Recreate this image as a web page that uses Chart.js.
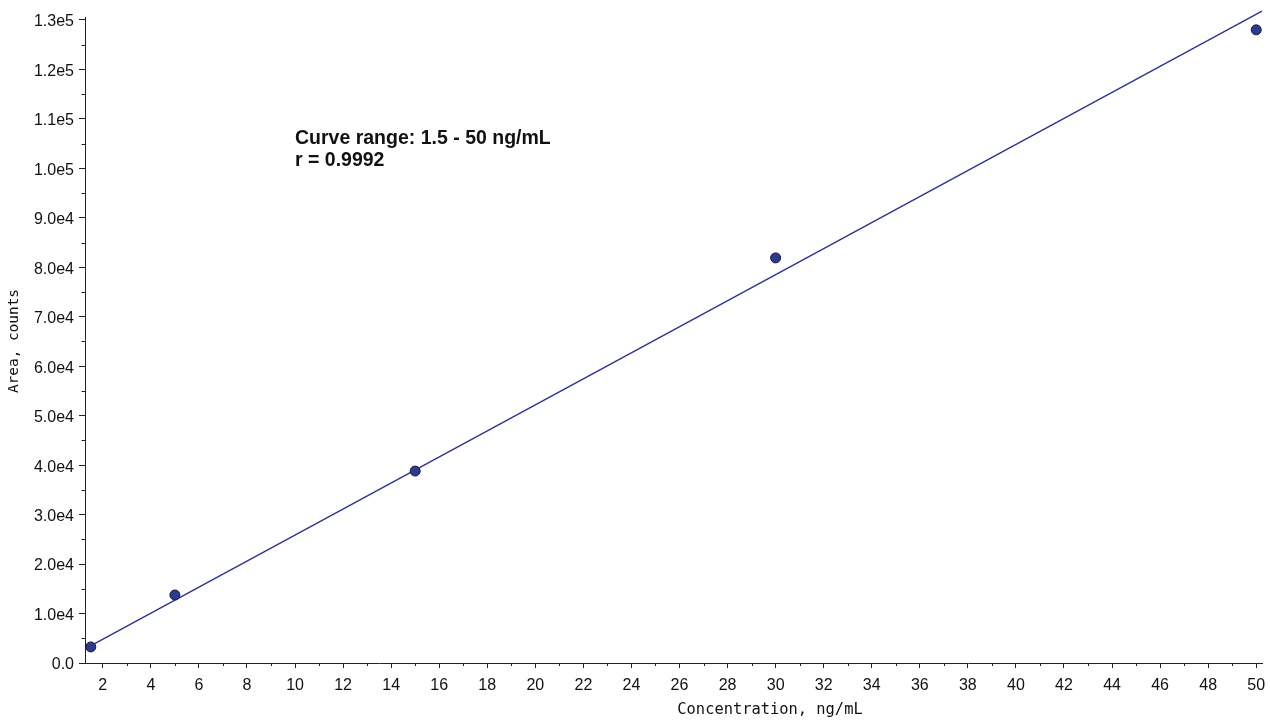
<!DOCTYPE html>
<html><head><meta charset="utf-8">
<script src="https://cdn.jsdelivr.net/npm/chart.js@4.4.1/dist/chart.umd.min.js"></script>
<style>html,body{margin:0;padding:0;background:#fff;}canvas{display:block}</style>
</head><body>
<canvas id="c" width="1270" height="724"></canvas>
<script>
// ---- data ----
const concentrations = [1.5, 5, 15, 30, 50];
const areas = [3250, 13750, 38800, 81900, 128000];
const fitX = [1.26, 50.24];
const fitY = [2850, 131800];
const xMajorTicks = [2,4,6,8,10,12,14,16,18,20,22,24,26,28,30,32,34,36,38,40,42,44,46,48,50];
const xMinorTicks = [3,5,7,9,11,13,15,17,19,21,23,25,27,29,31,33,35,37,39,41,43,45,47,49];
const yMajorTicks = [0,10000,20000,30000,40000,50000,60000,70000,80000,90000,100000,110000,120000,130000];
const yMinorTicks = [5000,15000,25000,35000,45000,55000,65000,75000,85000,95000,105000,115000,125000];
const yTickLabels = ['0.0','1.0e4','2.0e4','3.0e4','4.0e4','5.0e4','6.0e4','7.0e4','8.0e4','9.0e4','1.0e5','1.1e5','1.2e5','1.3e5'];
const annotationLines = ['Curve range: 1.5 - 50 ng/mL', 'r = 0.9992'];
const xTitle = 'Concentration, ng/mL';
const yTitle = 'Area, counts';

const axisColor = '#222';

const minorTickPlugin = {
  id: 'minorTicks',
  afterDraw(chart) {
    const ctx = chart.ctx;
    const xs = chart.scales.x, ys = chart.scales.y;
    const area = chart.chartArea;
    ctx.save();
    ctx.strokeStyle = axisColor;
    ctx.lineWidth = 1;
    ctx.beginPath();
    xMinorTicks.forEach(v => {
      const px = Math.round(xs.getPixelForValue(v)) + 0.5;
      ctx.moveTo(px, area.bottom);
      ctx.lineTo(px, area.bottom + 3);
    });
    yMinorTicks.forEach(v => {
      const py = Math.round(ys.getPixelForValue(v)) + 0.5;
      ctx.moveTo(area.left, py);
      ctx.lineTo(area.left - 3.5, py);
    });
    ctx.stroke();
    ctx.restore();
  }
};

const textPlugin = {
  id: 'texts',
  afterDraw(chart) {
    const ctx = chart.ctx;
    ctx.save();
    ctx.fillStyle = '#111';
    ctx.font = 'bold 19.5px "Liberation Sans"';
    ctx.textAlign = 'left';
    ctx.textBaseline = 'alphabetic';
    ctx.fillText(annotationLines[0], 295, 144);
    ctx.fillText(annotationLines[1], 295, 166);
    ctx.font = '15.4px "DejaVu Sans Mono"';
    ctx.textAlign = 'center';
    ctx.textBaseline = 'middle';
    ctx.fillText(xTitle, 770, 710);
    ctx.translate(14, 341);
    ctx.rotate(-Math.PI / 2);
    ctx.font = '14.4px "DejaVu Sans Mono"';
    ctx.fillText(yTitle, 0, 0);
    ctx.restore();
  }
};

function yLabel(v) {
  const i = yMajorTicks.indexOf(v);
  return i >= 0 ? yTickLabels[i] : '';
}
function xLabel(v) {
  return xMajorTicks.indexOf(v) >= 0 ? String(v) : '';
}

new Chart(document.getElementById('c').getContext('2d'), {
  type: 'scatter',
  data: {
    datasets: [
      {
        label: 'fit', type: 'line',
        data: fitX.map((x, i) => ({x: x, y: fitY[i]})),
        borderColor: '#2e3296', borderWidth: 1.4, pointRadius: 0, fill: false, clip: false, order: 2
      },
      {
        label: 'standards',
        data: concentrations.map((x, i) => ({x: x, y: areas[i]})),
        backgroundColor: '#2c3a8f', borderColor: '#15183a', borderWidth: 1, pointRadius: 5, order: 1
      }
    ]
  },
  options: {
    responsive: false, animation: false, devicePixelRatio: 1,
    layout: {padding: {left: 0, right: 0, top: 17, bottom: 0}},
    plugins: {legend: {display: false}, tooltip: {enabled: false}},
    scales: {
      x: {
        type: 'linear', min: 1.26, max: 50.24,
        afterBuildTicks: s => { s.ticks = xMajorTicks.map(v => ({value: v})); },
        afterFit: s => { s.height = 61; s.paddingRight = 8; s.paddingLeft = 0; },
        border: {display: true, color: axisColor, width: 1},
        grid: {display: true, drawOnChartArea: false, drawTicks: true, tickLength: 5, color: axisColor},
        ticks: {autoSkip: false, maxRotation: 0, color: '#111', padding: 8,
          font: {family: 'Liberation Sans', size: 16},
          callback: function(v) { return xLabel(v); }}
      },
      y: {
        type: 'linear', min: 0, max: 130600,
        afterBuildTicks: s => { s.ticks = yMajorTicks.map(v => ({value: v})); },
        afterFit: s => { s.width = 85; },
        border: {display: true, color: axisColor, width: 1},
        grid: {display: true, drawOnChartArea: false, drawTicks: true, tickLength: 6, color: axisColor},
        ticks: {autoSkip: false, color: '#111', padding: 5, labelOffset: 2,
          font: {family: 'Liberation Sans', size: 16},
          callback: function(v) { return yLabel(v); }}
      }
    }
  },
  plugins: [minorTickPlugin, textPlugin]
});
</script>
</body></html>
